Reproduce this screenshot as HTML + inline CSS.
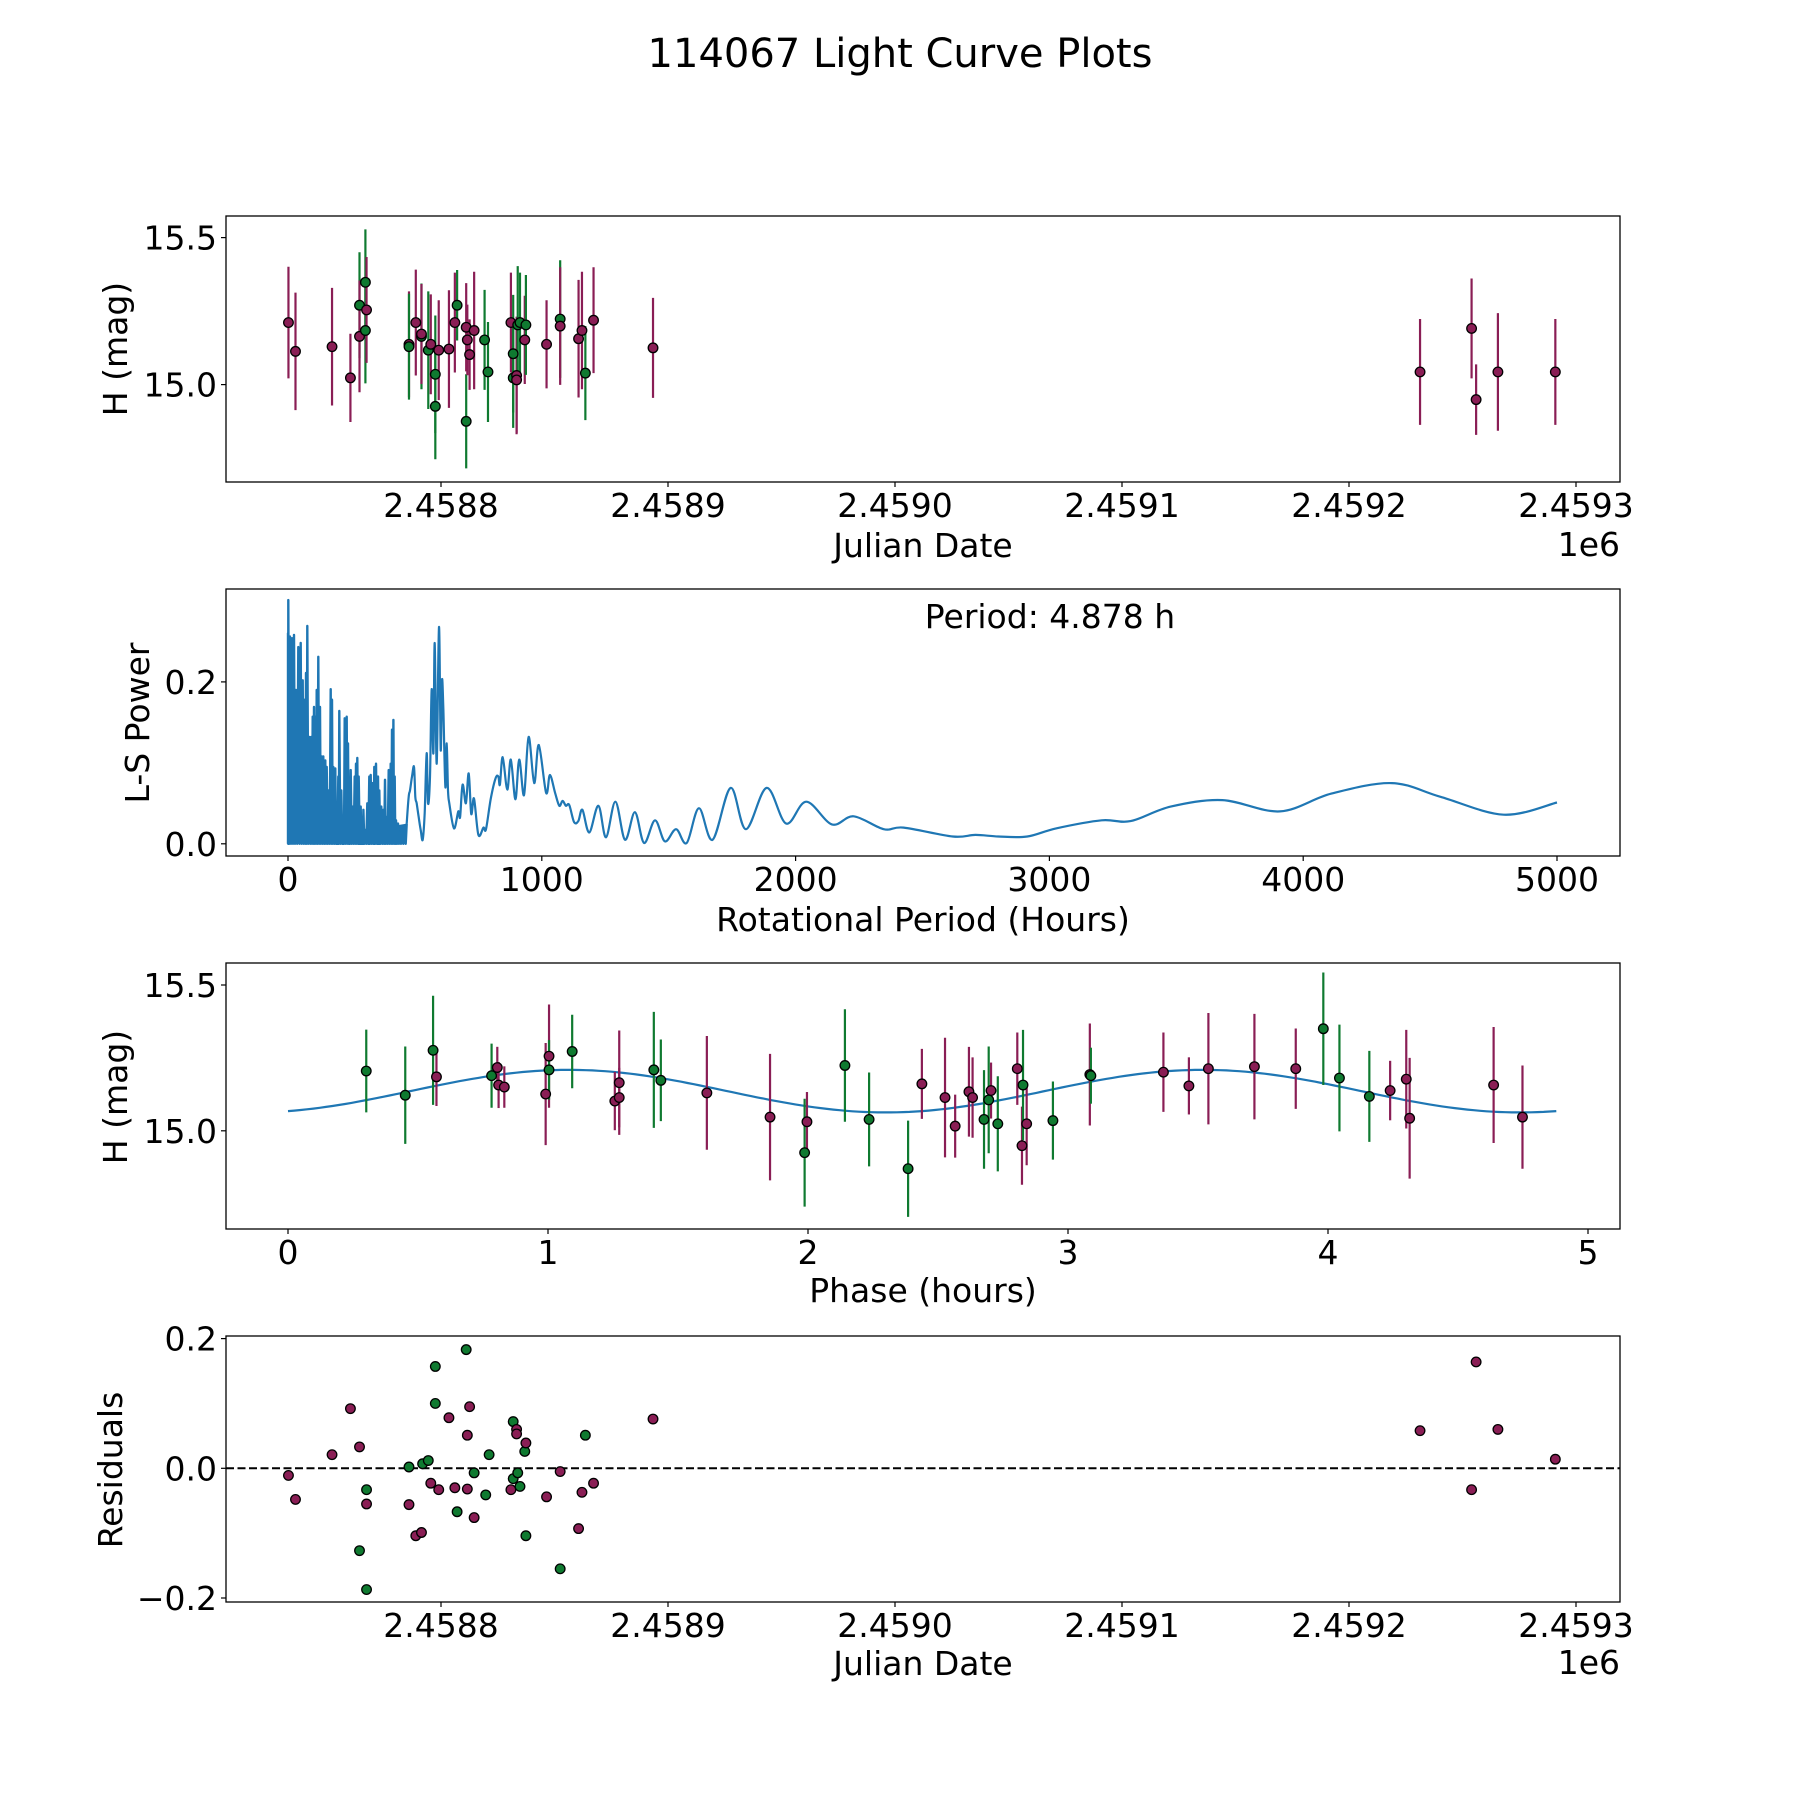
<!DOCTYPE html>
<html><head><meta charset="utf-8"><style>
html,body{margin:0;padding:0;background:#fff;}
svg{display:block;font-family:"DejaVu Sans","Liberation Sans",sans-serif;}
</style></head><body>
<svg id="fig" width="1800" height="1800" viewBox="0 0 1800 1800" xmlns="http://www.w3.org/2000/svg">
<rect width="1800" height="1800" fill="#fff"/>
<text x="900" y="67" font-size="40" text-anchor="middle">114067 Light Curve Plots</text>
</svg>
<script>
// ---------- Panel 1: light curve (JD vs H) ----------
const lcJD = [2458732.8,2458735.9,2458752.0,2458760.1,2458764.1,2458764.1,2458766.7,2458766.7,2458767.2,2458785.9,2458785.9,2458788.9,2458791.4,2458791.4,2458794.4,2458795.5,2458797.5,2458797.5,2458799.0,2458803.5,2458806.1,2458807.1,2458811.1,2458811.1,2458811.6,2458812.6,2458814.6,2458819.2,2458820.7,2458830.8,2458831.8,2458831.8,2458833.3,2458833.3,2458833.8,2458834.8,2458836.9,2458837.4,2458846.5,2458852.5,2458852.5,2458860.6,2458862.1,2458863.6,2458867.2,2458893.4,2459231.3,2459254.0,2459256.0,2459265.6,2459290.9];
const lcMag = [15.211,15.113,15.129,15.023,15.270,15.164,15.348,15.184,15.254,15.137,15.129,15.211,15.164,15.172,15.117,15.137,15.035,14.926,15.117,15.121,15.211,15.270,14.875,15.195,15.152,15.102,15.184,15.152,15.043,15.211,15.023,15.105,15.031,15.016,15.203,15.211,15.152,15.203,15.137,15.223,15.199,15.156,15.184,15.039,15.219,15.125,15.043,15.191,14.949,15.043,15.043];
const lcErr = [0.19,0.20,0.20,0.15,0.18,0.19,0.18,0.18,0.18,0.18,0.18,0.18,0.18,0.17,0.20,0.17,0.20,0.18,0.17,0.20,0.17,0.12,0.16,0.15,0.12,0.12,0.20,0.17,0.17,0.17,0.17,0.20,0.20,0.18,0.20,0.17,0.15,0.17,0.15,0.20,0.20,0.20,0.20,0.16,0.18,0.17,0.18,0.17,0.12,0.20,0.18];
const lcFilt = ["m","m","m","m","g","m","g","g","m","m","g","m","g","m","g","m","g","g","m","m","m","g","g","m","m","m","m","g","g","m","g","g","m","m","g","g","m","g","m","g","m","m","m","g","m","m","m","m","m","m","m"];
const jdTicks = [2458800,2458900,2459000,2459100,2459200,2459300];
const jdTickLabels = ["2.4588","2.4589","2.4590","2.4591","2.4592","2.4593"];
const magTicks = [15.0,15.5];
const magTickLabels = ["15.0","15.5"];

// ---------- Panel 2: Lomb-Scargle periodogram ----------
const lsDensePeriod = [0,1.3,7.9,15.8,23.7,31.5,40.7,50.0,57.8,65.7,71.0,76.2,84.1,92.0,97.2,102.5,107.7,113.0,119.5,126.1,132.7,139.2,147.1,152.4,160.3,168.1,173.4,178.6,186.5,191.8,198.3,202.3,210.2,218.0,223.3,231.2,236.4,241.7,247.0,254.8,262.7,268.0,273.2,278.5,286.3,291.6,296.9,304.7,312.6,320.5,325.7,333.6,340.2,346.8,354.6,359.9,367.8,375.7,382.2,388.8,396.7,404.5,409.8,415.1,420.3,425.6,433.4,441.3,449.2,459.7,467.6];
const lsDensePower = [0.260,0.301,0.256,0.254,0.258,0.190,0.243,0.248,0.202,0.178,0.211,0.269,0.132,0.132,0.157,0.169,0.157,0.190,0.231,0.169,0.108,0.108,0.103,0.095,0.066,0.191,0.178,0.095,0.093,0.029,0.083,0.164,0.066,0.025,0.155,0.157,0.124,0.066,0.091,0.046,0.083,0.099,0.106,0.083,0.046,0.033,0.042,0.017,0.050,0.083,0.085,0.075,0.095,0.099,0.083,0.066,0.046,0.042,0.079,0.033,0.091,0.099,0.141,0.153,0.083,0.029,0.025,0.013,0.017,0.013,0.025];
const lsPeriod = [467.6,475.5,480.7,488.6,496.5,501.7,507.0,514.9,522.8,530.6,538.5,546.4,551.6,559.5,566.1,572.7,577.9,585.8,595.0,601.6,606.8,612.1,620.0,625.2,630.5,635.7,654,671,678,688,701,712,722,733,750,770,780,799,818,829,835,846,864,878,896,911,930,948,970,988,1017,1032,1053,1069,1082,1095,1108,1127,1144,1160,1187,1223,1253,1290,1328,1367,1403,1446,1485,1529,1571,1619,1673,1744,1804,1886,1963,2042,2143,2229,2347,2426,2619,2709,2799,2913,3026,3206,3320,3478,3682,3908,4111,4349,4541,4790,5000];
const lsPower = [0.025,0.058,0.066,0.083,0.095,0.058,0.050,0.033,0.017,0.005,0.038,0.112,0.050,0.083,0.191,0.112,0.248,0.099,0.268,0.116,0.202,0.165,0.070,0.124,0.066,0.050,0.019,0.040,0.033,0.073,0.050,0.087,0.037,0.056,0.011,0.020,0.018,0.056,0.081,0.083,0.073,0.107,0.067,0.104,0.055,0.104,0.060,0.132,0.075,0.122,0.063,0.085,0.062,0.047,0.053,0.047,0.048,0.027,0.028,0.042,0.014,0.047,0.008,0.052,0.005,0.039,0.001,0.029,0.003,0.018,0.001,0.044,0.005,0.069,0.018,0.069,0.025,0.052,0.024,0.034,0.018,0.020,0.009,0.011,0.009,0.009,0.019,0.029,0.028,0.046,0.054,0.040,0.062,0.075,0.058,0.036,0.051];
const perTicks = [0,1000,2000,3000,4000,5000];
const perTickLabels = ["0","1000","2000","3000","4000","5000"];
const powTicks = [0.0,0.2];
const powTickLabels = ["0.0","0.2"];

// ---------- Panel 3: phased light curve ----------
const phPhase = [0.301,0.451,0.558,0.571,0.783,0.805,0.810,0.832,0.991,1.004,1.004,1.093,1.257,1.274,1.274,1.407,1.434,1.611,1.854,1.987,1.996,2.142,2.235,2.385,2.438,2.527,2.566,2.619,2.633,2.677,2.695,2.704,2.730,2.805,2.823,2.827,2.841,2.942,3.084,3.088,3.367,3.465,3.540,3.717,3.876,3.982,4.044,4.159,4.239,4.301,4.314,4.637,4.748];
const phMag = [15.205,15.122,15.276,15.185,15.189,15.217,15.157,15.150,15.126,15.256,15.209,15.272,15.102,15.165,15.114,15.209,15.173,15.130,15.047,14.925,15.031,15.224,15.039,14.870,15.161,15.114,15.016,15.134,15.114,15.039,15.106,15.138,15.024,15.213,14.949,15.157,15.024,15.035,15.193,15.189,15.201,15.154,15.213,15.220,15.213,15.350,15.181,15.118,15.138,15.177,15.043,15.157,15.047];
const phErr = [0.142,0.167,0.187,0.100,0.110,0.071,0.079,0.071,0.175,0.177,0.102,0.126,0.100,0.179,0.102,0.199,0.140,0.195,0.217,0.185,0.102,0.193,0.161,0.165,0.120,0.205,0.108,0.154,0.138,0.169,0.183,0.096,0.163,0.124,0.134,0.189,0.142,0.134,0.175,0.096,0.136,0.098,0.191,0.181,0.138,0.193,0.183,0.156,0.102,0.169,0.207,0.199,0.177];
const phFilt = ["g","g","g","m","g","m","m","m","m","m","g","g","m","m","m","g","g","m","m","g","m","g","g","g","m","m","m","m","m","g","g","m","g","m","m","g","m","g","m","g","m","m","m","m","m","g","g","g","m","m","m","m","m"];
// sinusoid fit parameters
const fitMean = [15.136];
const fitAmp = [0.073];
const fitPeak = [1.08];
const fitCycle = [2.439];
const fitPeriod = [4.878];
const phTicks = [0,1,2,3,4,5];
const phTickLabels = ["0","1","2","3","4","5"];

// ---------- Panel 4: residuals ----------
const resJD = [2458732.8,2458735.9,2458752.0,2458760.1,2458764.1,2458764.1,2458767.2,2458767.2,2458767.2,2458785.9,2458785.9,2458788.9,2458791.4,2458791.9,2458794.4,2458795.5,2458797.5,2458797.5,2458799.0,2458803.5,2458806.1,2458807.1,2458811.1,2458811.6,2458811.6,2458812.6,2458814.6,2458814.6,2458819.7,2458821.2,2458830.8,2458831.8,2458831.8,2458833.3,2458833.3,2458833.8,2458834.8,2458836.9,2458837.4,2458837.4,2458846.5,2458852.5,2458852.5,2458860.6,2458862.1,2458863.6,2458867.2,2458893.4,2459231.3,2459254.0,2459256.0,2459265.6,2459290.9];
const resVal = [-0.011,-0.048,0.021,0.092,0.033,-0.127,-0.033,-0.055,-0.187,0.002,-0.056,-0.104,-0.099,0.007,0.012,-0.023,0.100,0.157,-0.033,0.078,-0.030,-0.067,0.183,0.051,-0.032,0.095,-0.007,-0.076,-0.041,0.021,-0.033,0.072,-0.016,0.060,0.053,-0.007,-0.028,0.026,-0.104,0.039,-0.044,-0.155,-0.005,-0.093,-0.037,0.051,-0.023,0.076,0.058,-0.033,0.164,0.060,0.014];
const resFilt = ["m","m","m","m","m","g","g","m","g","g","m","m","m","g","g","m","g","g","m","m","m","g","g","m","m","m","g","m","g","g","m","g","g","m","m","g","g","g","g","m","m","g","m","m","m","g","m","m","m","m","m","m","m"];
const resTicks = [-0.2,0.0,0.2];
const resTickLabels = ["\u22120.2","0.0","0.2"];

const COL = {m:"#8a1e55", g:"#0f7a30"};
const BLUE = "#1f77b4";
const NS = "http://www.w3.org/2000/svg";
const svg = document.getElementById("fig");
const L = 226, R = 1620;

function el(tag, attrs, parent){
  const e = document.createElementNS(NS, tag);
  for (const k in attrs) e.setAttribute(k, attrs[k]);
  (parent||svg).appendChild(e);
  return e;
}
function lin(d0,d1,r0,r1){ return v => r0 + (v-d0)*(r1-r0)/(d1-d0); }

function frame(top, bot, name){
  const g = el("g", {});
  
  
  const r = el("rect", {x:L, y:top, width:R-L, height:bot-top, fill:"none", stroke:"#000", "stroke-width":1.3}, g);
  
  
  return g;
}
function xTicks(g, vals, labels, sx, bot, name){
  vals.forEach((v,i)=>{
    const x = sx(v);
    el("line", {x1:x, x2:x, y1:bot, y2:bot+5, stroke:"#000", "stroke-width":1.2}, g);
    const t = el("text", {x:x, y:bot+35, "font-size":33, "text-anchor":"middle"}, g);
    t.textContent = labels[i];
    
    
  });
}
function yTicks(g, vals, labels, sy, name){
  vals.forEach((v,i)=>{
    const y = sy(v);
    el("line", {x1:L-5, x2:L, y1:y, y2:y, stroke:"#000", "stroke-width":1.2}, g);
    const t = el("text", {x:L-9, y:y+12, "font-size":33, "text-anchor":"end"}, g);
    t.textContent = labels[i];
    
    
  });
}
function label(g, txt, x, y, rot, name, anchor){
  const t = el("text", {x:x, y:y, "font-size":33, "text-anchor":anchor||"middle"}, g);
  if (rot) t.setAttribute("transform", "rotate(-90 "+x+" "+y+")");
  t.textContent = txt;
  
  
  return t;
}
function errPoints(g, xs, ys, es, fs, sx, sy, name){
  const eg = el("g", {}, g);
  xs.forEach((xv,i)=>{
    const x = sx(xv);
    const ln = el("line", {x1:x, x2:x, y1:sy(ys[i]-es[i]), y2:sy(ys[i]+es[i]), stroke:COL[fs[i]], "stroke-width":2.2}, eg);
    
    
  });
  xs.forEach((xv,i)=>{
    const c = el("circle", {cx:sx(xv), cy:sy(ys[i]), r:4.8, fill:COL[fs[i]], stroke:"#000", "stroke-width":1.3}, eg);
    
    
  });
}
function catmull(pts){
  let d = "M"+pts[0][0].toFixed(1)+","+pts[0][1].toFixed(1);
  for (let i=0;i<pts.length-1;i++){
    const p0 = pts[Math.max(0,i-1)], p1 = pts[i], p2 = pts[i+1], p3 = pts[Math.min(pts.length-1,i+2)];
    const c1 = [p1[0]+(p2[0]-p0[0])/6, p1[1]+(p2[1]-p0[1])/6];
    const c2 = [p2[0]-(p3[0]-p1[0])/6, p2[1]-(p3[1]-p1[1])/6];
    d += "C"+c1[0].toFixed(1)+","+c1[1].toFixed(1)+" "+c2[0].toFixed(1)+","+c2[1].toFixed(1)+" "+p2[0].toFixed(1)+","+p2[1].toFixed(1);
  }
  return d;
}

// ---- Panel 1
(function(){
  const top=216, bot=482;
  const sx = lin(2458800, 2458900, 441, 668);
  const sy = lin(15.0, 15.5, 384.6, 237.6);
  const g = frame(top, bot, "light-curve-panel");
  errPoints(g, lcJD, lcMag, lcErr, lcFilt, sx, sy, "light-curve");
  xTicks(g, jdTicks, jdTickLabels, sx, bot, "jd-axis");
  yTicks(g, magTicks, magTickLabels, sy, "mag-axis");
  label(g, "Julian Date", 923, 557, false, "x-axis-title");
  label(g, "1e6", 1620, 556, false, "x-axis-offset", "end");
  label(g, "H (mag)", 127, 349, true, "y-axis-title");
})();

// ---- Panel 2
(function(){
  const top=589, bot=856;
  const sx = lin(0, 5000, 288, 1557);
  const sy = lin(0, 0.2, 843.8, 681.9);
  const g = frame(top, bot, "periodogram-panel");
  let d = "M"+sx(lsDensePeriod[0]).toFixed(1)+","+sy(0).toFixed(1);
  for (let i=0;i<lsDensePeriod.length;i++){
    const x = sx(lsDensePeriod[i]);
    d += "L"+x.toFixed(1)+","+sy(lsDensePower[i]).toFixed(1);
    if (i<lsDensePeriod.length-1){
      const xm = (x + sx(lsDensePeriod[i+1]))/2;
      d += "L"+xm.toFixed(1)+","+sy(0).toFixed(1);
    }
  }
  const dense = el("path", {d:d, fill:BLUE, stroke:BLUE, "stroke-width":2.4, "stroke-linejoin":"round"}, g);
  
  
  const pts = lsPeriod.map((p,i)=>[sx(p), sy(lsPower[i])]);
  const smooth = el("path", {d:catmull(pts), fill:"none", stroke:BLUE, "stroke-width":2.2, "stroke-linejoin":"round"}, g);
  
  
  xTicks(g, perTicks, perTickLabels, sx, bot, "period-axis");
  yTicks(g, powTicks, powTickLabels, sy, "power-axis");
  label(g, "Rotational Period (Hours)", 923, 931, false, "x-axis-title");
  label(g, "L-S Power", 149, 723, true, "y-axis-title");
  label(g, "Period: " + fitPeriod[0].toFixed(3) + " h", 1050, 628, false, "period-annotation");
})();

// ---- Panel 3
(function(){
  const top=963, bot=1229;
  const sx = lin(0, 1, 288, 548);
  const sy = lin(15.0, 15.5, 1130.8, 985.0);
  const g = frame(top, bot, "phase-panel");
  const pts = [];
  const n = 200;
  for (let i=0;i<=n;i++){
    const p = fitPeriod[0]*i/n;
    pts.push([sx(p), sy(fitMean[0] + fitAmp[0]*Math.cos(2*Math.PI*(p-fitPeak[0])/fitCycle[0]))]);
  }
  const fit = el("polyline", {points:pts.map(p=>p[0].toFixed(1)+","+p[1].toFixed(1)).join(" "), fill:"none", stroke:BLUE, "stroke-width":2.2}, g);
  
  
  errPoints(g, phPhase, phMag, phErr, phFilt, sx, sy, "phase");
  xTicks(g, phTicks, phTickLabels, sx, bot, "phase-axis");
  yTicks(g, magTicks, magTickLabels, sy, "mag-axis");
  label(g, "Phase (hours)", 923, 1302, false, "x-axis-title");
  label(g, "H (mag)", 127, 1097, true, "y-axis-title");
})();

// ---- Panel 4
(function(){
  const top=1336, bot=1602;
  const sx = lin(2458800, 2458900, 441, 668);
  const sy = lin(0, 0.2, 1468.3, 1338.6);
  const g = frame(top, bot, "residuals-panel");
  const zl = el("line", {x1:L, x2:R, y1:sy(0), y2:sy(0), stroke:"#000", "stroke-width":2, "stroke-dasharray":"8,3.5"}, g);
  
  
  resJD.forEach((j,i)=>{
    const c = el("circle", {cx:sx(j), cy:sy(resVal[i]), r:4.8, fill:COL[resFilt[i]], stroke:"#000", "stroke-width":1.3}, g);
    
    
  });
  xTicks(g, jdTicks, jdTickLabels, sx, bot, "jd-axis");
  yTicks(g, resTicks, resTickLabels, sy, "residual-axis");
  label(g, "Julian Date", 923, 1675, false, "x-axis-title");
  label(g, "1e6", 1620, 1674, false, "x-axis-offset", "end");
  label(g, "Residuals", 122, 1470, true, "y-axis-title");
})();
</script>
</body></html>
